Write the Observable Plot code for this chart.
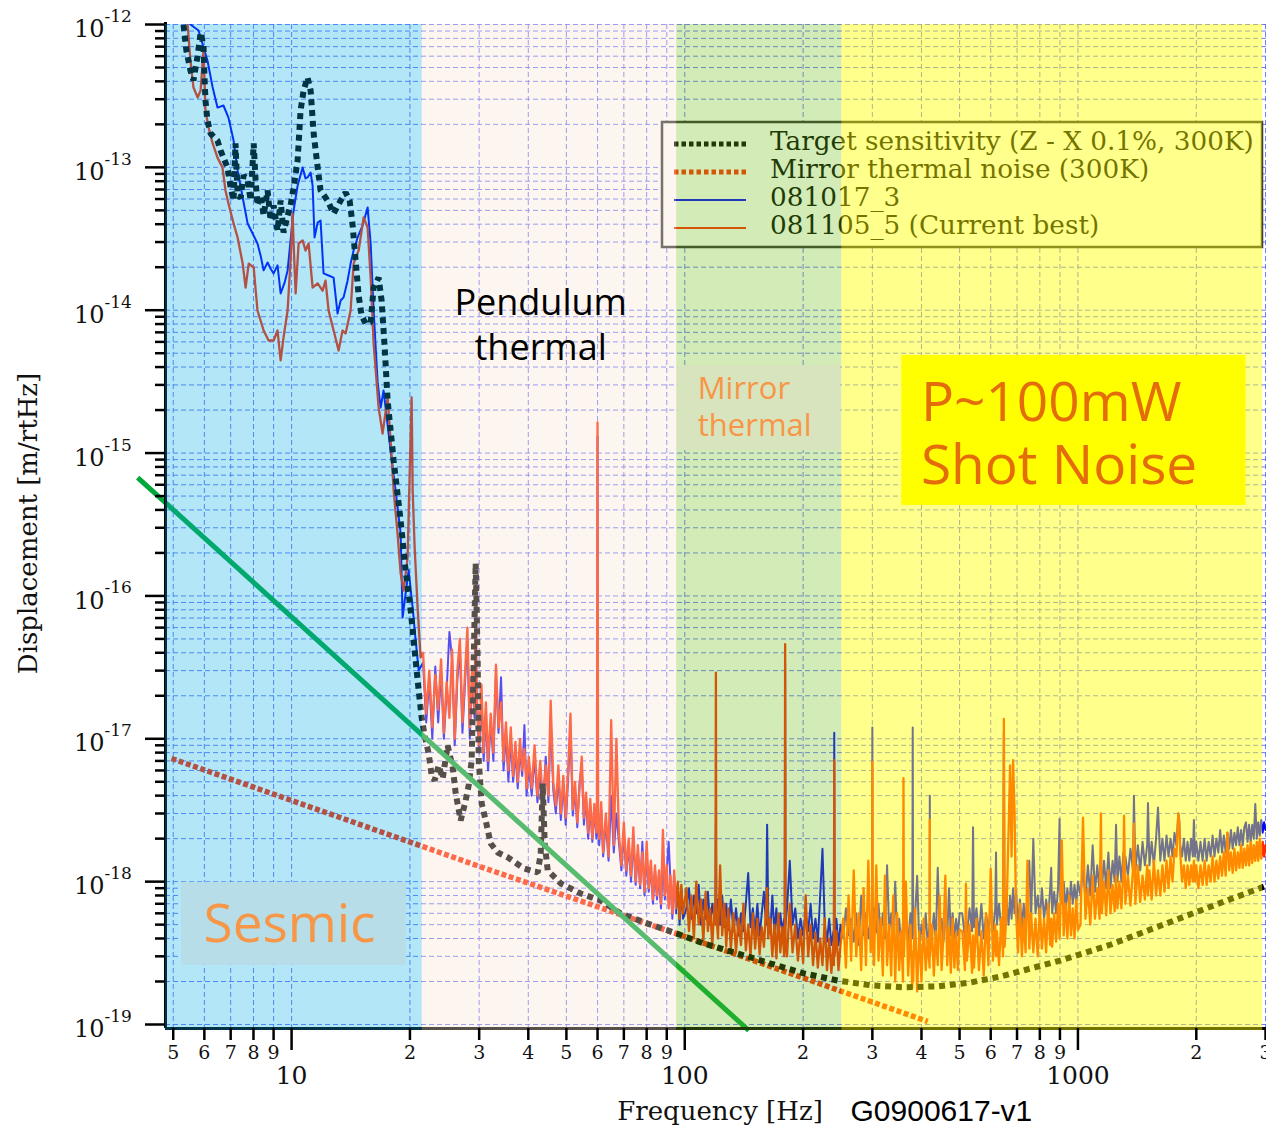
<!DOCTYPE html>
<html>
<head>
<meta charset="utf-8">
<script src="https://cdn.jsdelivr.net/npm/d3@7"></script>
<script src="https://cdn.jsdelivr.net/npm/@observablehq/plot@0.6"></script>
<style>
  html, body { margin: 0; padding: 0; background: #fff; }
  #chart { width: 1266px; height: 1128px; }
</style>
</head>
<body>
<div id="chart"></div>
<script>
// ---------------- DATA ----------------
// Target sensitivity (Z - X 0.1%, 300K)
const targetFreq = [5.2, 5.31, 5.40, 5.53, 5.63, 5.77, 5.87, 5.97, 6.01, 6.04,
  6.11, 6.22, 6.48, 6.60, 6.87, 7.00, 7.12, 7.20, 7.29, 7.42,
  7.55, 7.73, 7.87, 8.01, 8.10, 8.19, 8.34, 8.49, 8.69, 8.84,
  9.00, 9.21, 9.38, 9.54, 9.77, 9.94, 10.12, 10.36, 10.54, 10.73,
  10.98, 11.18, 11.38, 11.65, 11.85, 12.35, 12.79, 13.33, 13.72, 14.05,
  14.30, 14.55, 14.81, 15.07, 15.43, 15.89, 16.17, 16.65, 16.94, 17.24,
  17.55, 18.18, 18.94, 19.50, 20.09, 20.56, 21.05, 21.42, 21.80, 22.32,
  22.71, 23.11, 23.66, 24.23, 24.94, 25.69, 26.15, 26.92, 27.72, 28.21,
  28.71, 29.05, 29.39, 29.74, 29.92, 30.45, 31.17, 32.09, 33.44, 35.44,
  38.93, 42.27, 43.02, 43.52, 44.04, 44.81, 48.37, 54.37, 61.13, 68.72,
  80.52, 93.76, 111.8, 136.4, 165.5, 200.8, 245.1, 297.4, 360.8, 440.4,
  534.2, 637.1, 905.1, 1213, 1626, 2180, 3027];
const targetDisp = [1.4e-12, 1.0e-12, 6.58e-13, 4.77e-13, 4.06e-13, 6.07e-13, 8.79e-13, 7.13e-13, 4.06e-13, 2.94e-13,
  2.13e-13, 1.73e-13, 1.54e-13, 1.31e-13, 9.98e-14, 7.23e-14, 5.86e-14, 1.47e-13, 6.35e-14, 6.15e-14,
  8.77e-14, 8.09e-14, 5.86e-14, 1.47e-13, 8.09e-14, 5.41e-14, 6.35e-14, 4.60e-14, 6.89e-14, 4.25e-14,
  5.41e-14, 3.61e-14, 5.86e-14, 3.50e-14, 4.60e-14, 5.41e-14, 7.23e-14, 1.12e-13, 2.50e-13, 3.45e-13,
  4.26e-13, 3.45e-13, 1.73e-13, 1.0e-13, 6.89e-14, 5.86e-14, 4.75e-14, 5.86e-14, 6.67e-14, 5.86e-14,
  3.92e-14, 2.23e-14, 1.27e-14, 9.18e-15, 8.07e-15, 8.2e-15, 1.44e-14, 1.69e-14, 1.17e-14, 5.66e-15,
  2.33e-15, 8.87e-16, 3.37e-16, 1.51e-16, 7.91e-17, 4.15e-17, 2.18e-17, 1.41e-17, 1.05e-17, 7.89e-18,
  5.53e-18, 5.11e-18, 6.50e-18, 5.27e-18, 8.97e-18, 6.30e-18, 4.14e-18, 2.68e-18, 3.70e-18, 4.71e-18,
  7.05e-18, 3.53e-17, 1.69e-16, 3.53e-17, 7.05e-18, 3.52e-18, 2.68e-18, 1.85e-18, 1.60e-18, 1.48e-18,
  1.24e-18, 1.16e-18, 1.57e-18, 4.86e-18, 1.85e-18, 1.20e-18, 9.71e-19, 8.26e-19, 7.38e-19, 5.98e-19,
  5.09e-19, 4.41e-19, 3.69e-19, 3.14e-19, 2.67e-19, 2.28e-19, 2.03e-19, 1.88e-19, 1.82e-19, 1.85e-19,
  1.97e-19, 2.17e-19, 2.81e-19, 3.63e-19, 4.93e-19, 6.70e-19, 9.40e-19];

// Mirror thermal noise (300K)
const mirrorFreq = [4.95, 10, 30, 100, 415];
const mirrorDisp = [7.28e-18, 3.70e-18, 1.28e-18, 4.13e-19, 1.05e-19];

// Seismic noise guide line
const seismicFreq = [4.06, 145.5];
const seismicDisp = [6.74e-16, 9.08e-20];

// 081017_3 (blue), below ~21 Hz
const blueLowFreq = [5.45, 5.53, 5.80, 6.11, 6.30, 6.48, 6.71, 6.91, 7.12, 7.29,
  7.51, 7.73, 7.96, 8.19, 8.34, 8.49, 8.69, 8.84, 9.00, 9.21,
  9.38, 9.60, 9.77, 9.94, 10.12, 10.36, 10.67, 10.85, 10.98, 11.18,
  11.31, 11.44, 11.65, 11.85, 12.06, 12.42, 12.79, 13.09, 13.33, 13.56,
  13.88, 14.13, 14.38, 14.72, 15.16, 15.61, 15.89, 16.17, 16.56, 16.85,
  17.14, 17.86, 18.39, 18.94, 19.16, 19.50, 19.85, 20.32, 20.68, 21.05];
const blueLowDisp = [1.3e-12, 1.0e-12, 9.08e-13, 5.60e-13, 3.62e-13, 2.62e-13, 2.71e-13, 2.23e-13, 1.54e-13, 9.51e-14,
  6.15e-14, 4.05e-14, 3.44e-14, 2.93e-14, 2.42e-14, 1.90e-14, 2.16e-14, 1.96e-14, 1.81e-14, 2.06e-14,
  1.31e-14, 1.56e-14, 1.90e-14, 3.08e-14, 4.99e-14, 7.46e-14, 9.98e-14, 8.36e-14, 8.5e-14, 9.2e-14,
  7.46e-14, 3.23e-14, 4.11e-14, 4.25e-14, 1.81e-14, 1.75e-14, 1.69e-14, 9.48e-15, 1.17e-14, 1.23e-14,
  1.61e-14, 2.12e-14, 2.62e-14, 3.23e-14, 3.92e-14, 5.24e-14, 2.93e-14, 9.95e-15, 3.07e-15, 2.08e-15,
  2.74e-15, 1.04e-15, 5.47e-16, 2.74e-16, 7.06e-17, 1.04e-16, 1.51e-16, 8.30e-17, 4.88e-17, 3.01e-17];

// 081105_5 (current best, red), below ~21 Hz
const redLowFreq = [5.37, 5.44, 5.53, 5.63, 5.77, 5.87, 5.97, 6.04, 6.15, 6.30,
  6.48, 6.67, 6.79, 6.91, 7.12, 7.29, 7.51, 7.64, 7.78, 8.01,
  8.19, 8.49, 8.74, 9.00, 9.21, 9.38, 9.54, 9.77, 9.94, 10.06,
  10.12, 10.24, 10.42, 10.67, 10.85, 11.05, 11.31, 11.65, 11.99, 12.20,
  12.42, 12.79, 13.17, 13.48, 13.72, 14.13, 14.38, 14.81, 15.25, 15.61,
  15.89, 16.17, 16.65, 17.04, 17.55, 17.86, 18.18, 18.60, 18.94, 19.28,
  19.73, 19.97, 20.20, 20.32, 20.56, 20.92, 21.29];
const redLowDisp = [1.25e-12, 1.0e-12, 5.60e-13, 3.62e-13, 3.08e-13, 3.45e-13, 6.58e-13, 2.50e-13, 1.90e-13, 1.47e-13,
  1.17e-13, 1.0e-13, 6.89e-14, 5.58e-14, 4.05e-14, 3.23e-14, 2.12e-14, 1.44e-14, 2.12e-14, 1.99e-14,
  9.95e-15, 7.21e-15, 6.14e-15, 6.14e-15, 7.21e-15, 4.45e-15, 6.44e-15, 9.95e-15, 2.23e-14, 4.75e-14,
  2.93e-14, 1.31e-14, 2.93e-14, 3.08e-14, 2.62e-14, 2.93e-14, 1.44e-14, 1.54e-14, 1.37e-14, 1.61e-14,
  9.95e-15, 7.21e-15, 5.22e-15, 7.21e-15, 6.87e-15, 9.95e-15, 2.12e-14, 2.62e-14, 4.46e-14, 3.79e-14,
  1.69e-14, 5.85e-15, 2.08e-15, 1.37e-15, 2.45e-15, 1.22e-15, 5.47e-16, 2.74e-16, 1.44e-16, 1.09e-16,
  1.86e-16, 7.19e-16, 2.45e-15, 5.47e-16, 2.18e-16, 8.30e-17, 3.71e-17];

// Shared frequency bins above ~21 Hz for both measured spectra
const hiFreq = [
  21.6, 22.0, 22.4, 22.8, 23.2, 23.6, 24.0, 24.4, 24.8, 25.2, 25.6, 26.0, 26.4, 26.8, 27.2, 27.6, 28.0, 28.4, 28.8, 29.2, 29.4, 29.6, 30.0, 30.4, 30.8, 31.2,
  31.6, 32.1, 32.6, 33.1, 33.6, 34.1, 34.6, 35.1, 35.6, 36.1, 36.6, 37.1, 37.6, 38.1, 38.6, 39.1, 39.6, 40.1,
  40.8, 41.5, 42.2, 42.9, 43.6, 44.3, 45.0, 45.6, 46.3, 47.0, 47.7, 48.4, 49.1, 49.8, 50.5, 51.2, 51.9, 52.6, 53.3, 54.0, 54.7, 55.4, 56.1, 56.8, 57.5, 58.2, 58.9, 59.6, 59.8, 60.0, 60.2, 60.6, 61.3,
  62, 63, 64, 65, 66, 67, 68, 69, 70, 71, 72, 73, 74, 75, 76, 77, 78, 79, 80, 81, 82, 83, 84, 85, 86, 87, 88, 89, 90, 91, 92, 93, 94, 95, 96, 97, 98, 99,
  101, 102.5, 104, 105.5, 107, 108.5, 110, 111.5, 113, 114.5, 116, 117.5, 119, 119.7, 120, 120.3, 121.5, 123, 124.5, 126, 127.5, 129,
  131, 133, 135, 137, 139, 141, 143, 145, 147, 149, 151, 153, 155, 157, 159, 161, 162, 163, 165, 167, 169, 171, 173, 175, 177, 179, 179.6, 180, 180.4, 182,
  185, 188, 191, 194, 197, 200, 203, 206, 209, 212, 215, 218, 221, 224, 227, 230, 233, 236, 239, 239.5, 240, 240.5, 243, 246, 249,
  253, 257, 261, 265, 269, 273, 277, 281, 285, 289, 293, 297, 299.5, 300, 300.5, 303, 307, 311, 315, 319, 323, 327, 331, 335, 339, 343, 347, 351, 355, 359, 360, 361, 365, 370, 375, 379, 380, 381, 385, 390, 395, 400, 405, 410, 415, 419.5, 420, 420.5, 425, 430, 435, 440, 445, 450, 455, 460, 465, 470, 475, 480, 485, 490, 495, 500,
  508, 516, 519, 522, 530, 538, 541, 544, 552, 560, 568, 576, 584, 592, 600, 608, 616, 619, 622, 630, 638, 645, 648, 651, 658, 666, 672, 678, 684, 690, 696, 704, 712, 720, 728, 736, 744, 752, 760, 770, 780, 790, 800, 810, 820, 830, 840, 850, 855, 860, 870, 880, 890, 898, 902, 910, 920, 930, 940, 950, 960, 970, 980, 990, 1000,
  1015, 1030, 1045, 1060, 1075, 1090, 1105, 1120, 1135, 1144, 1150, 1165, 1180, 1195, 1210, 1225, 1240, 1250, 1260, 1275, 1290, 1305, 1310, 1320, 1340, 1360, 1380, 1388, 1400, 1420, 1440, 1460, 1480, 1500, 1507, 1520, 1540, 1560, 1580, 1598, 1620, 1640, 1660, 1680, 1700, 1720, 1740, 1760, 1780, 1800, 1810, 1820, 1840, 1860, 1880, 1900, 1920, 1940, 1960, 1972, 1985, 2000,
  2025, 2050, 2075, 2100, 2125, 2150, 2175, 2200, 2225, 2250, 2275, 2300, 2325, 2350, 2375, 2400, 2425, 2450, 2475, 2500, 2525, 2550, 2575, 2600, 2625, 2650, 2675, 2700, 2725, 2750, 2775, 2800, 2825, 2850, 2875, 2900, 2925, 2950, 2975, 3000];

const redHiDisp = [
  4.0e-17, 1.5e-17, 3.0e-17, 1.2e-17, 2.8e-17, 1.6e-17, 3.6e-17, 1.1e-17, 2.5e-17, 1.4e-17, 4.2e-17, 1.0e-17, 3.0e-17, 5.0e-17, 1.3e-17, 2.8e-17, 6.0e-17, 1.2e-17, 3.2e-17, 1.6e-17, 1.2e-16, 2.0e-17, 9.0e-18, 2.4e-17, 8.0e-18, 1.8e-17,
  7.0e-18, 1.5e-17, 8.0e-18, 3.3e-17, 1.2e-17, 1.8e-17, 7.0e-18, 1.3e-17, 6.0e-18, 1.2e-17, 5.5e-18, 9.5e-18, 5.0e-18, 1.0e-17, 6.0e-18, 8.5e-18, 4.5e-18, 7.5e-18,
  4.5e-18, 9.0e-18, 4.0e-18, 7.0e-18, 3.5e-18, 6.5e-18, 4.0e-18, 1.85e-17, 5.0e-18, 3.4e-18, 6.5e-18, 3.0e-18, 5.5e-18, 2.8e-18, 6.0e-18, 1.5e-17, 3.2e-18, 5.0e-18, 2.6e-18, 4.5e-18, 7.5e-18, 2.8e-18, 4.2e-18, 2.2e-18, 3.8e-18, 2.0e-18, 3.5e-18, 2.2e-18, 3.0e-18, 1.64e-15, 2.8e-18, 2.0e-18, 3.6e-18,
  1.6e-18, 3.0e-18, 1.5e-18, 1.35e-17, 1.8e-18, 1.0e-17, 2.2e-18, 1.3e-18, 2.6e-18, 1.2e-18, 2.0e-18, 1.1e-18, 2.4e-18, 1.0e-18, 1.8e-18, 9.5e-19, 1.6e-18, 8.5e-19, 1.9e-18, 9.0e-19, 1.4e-18, 7.5e-19, 1.3e-18, 8.0e-19, 1.2e-18, 7.0e-19, 2.3e-18, 8.0e-19, 1.3e-18, 6.5e-19, 1.1e-18, 6.0e-19, 1.2e-18, 6.5e-19, 1.0e-18, 5.5e-19, 9.5e-19, 6.0e-19,
  9.0e-19, 4.5e-19, 8.0e-19, 4.0e-19, 1.0e-18, 5.0e-19, 7.5e-19, 3.8e-19, 8.5e-19, 4.5e-19, 6.5e-19, 3.6e-19, 7.0e-19, 5.0e-19, 2.9e-17, 6.0e-19, 4.0e-19, 1.3e-18, 4.2e-19, 7.0e-19, 3.5e-19, 6.5e-19,
  3.4e-19, 6.0e-19, 3.2e-19, 5.5e-19, 3.6e-19, 7.0e-19, 3.3e-19, 5.0e-19, 3.0e-19, 6.0e-19, 3.4e-19, 5.5e-19, 3.1e-19, 4.8e-19, 3.5e-19, 6.5e-19, 9.0e-19, 4.0e-19, 5.5e-19, 3.0e-19, 5.0e-19, 2.9e-19, 6.0e-19, 3.2e-19, 4.8e-19, 3.0e-19, 4.2e-19, 4.6e-17, 4.0e-19, 3.0e-19,
  7.0e-19, 3.2e-19, 5.0e-19, 2.8e-19, 4.6e-19, 2.7e-19, 8.0e-19, 3.0e-19, 5.0e-19, 2.6e-19, 4.4e-19, 2.5e-19, 4.0e-19, 2.6e-19, 5.5e-19, 2.4e-19, 4.0e-19, 2.3e-19, 3.8e-19, 2.6e-19, 7.1e-18, 3.0e-19, 4.5e-19, 2.4e-19, 3.6e-19,
  5.5e-19, 2.5e-19, 8.0e-19, 2.8e-19, 1.2e-18, 3.0e-19, 6.0e-19, 2.4e-19, 9.0e-19, 2.6e-19, 1.4e-18, 3.2e-19, 4.5e-19, 6.9e-18, 4.0e-19, 2.6e-19, 1.3e-18, 2.8e-19, 5.5e-19, 2.2e-19, 1.1e-18, 2.6e-19, 5.0e-19, 2.2e-19, 8.0e-19, 2.0e-19, 6.0e-19, 2.4e-19, 4.5e-19, 2.0e-19, 5.3e-18, 3.0e-19, 1.0e-18, 2.2e-19, 5.0e-19, 1.8e-19, 3.2e-19, 2.0e-19, 6.5e-19, 1.7e-19, 4.5e-19, 2.0e-19, 5.5e-19, 2.4e-19, 4.0e-19, 2.5e-19, 2.7e-18, 3.0e-19, 5.0e-19, 2.2e-19, 4.5e-19, 2.6e-19, 8.0e-19, 2.4e-19, 4.2e-19, 1.1e-18, 2.6e-19, 4.8e-19, 2.3e-19, 5.5e-19, 2.5e-19, 4.4e-19, 2.4e-19, 4.6e-19,
  4.5e-19, 2.4e-19, 9.7e-19, 2.8e-19, 5.0e-19, 2.3e-19, 4.2e-19, 2.5e-19, 5.5e-19, 2.4e-19, 4.5e-19, 2.2e-19, 6.0e-19, 2.6e-19, 1.23e-18, 2.8e-19, 5.0e-19, 3.0e-19, 4.5e-19, 2.6e-19, 5.5e-19, 3.0e-19, 1.38e-17, 3.5e-19, 6.0e-19, 2.2e-18, 6.5e-18, 1.5e-18, 7.1e-18, 3.0e-18, 6.0e-19, 3.2e-19, 7.0e-19, 3.0e-19, 5.5e-19, 3.2e-19, 1.4e-18, 3.4e-19, 6.0e-19, 3.2e-19, 5.5e-19, 3.0e-19, 6.5e-19, 3.4e-19, 5.5e-19, 3.2e-19, 7.0e-19, 3.6e-19, 5.5e-19, 3.5e-19, 6.0e-19, 3.8e-19, 7.0e-19, 4.0e-19, 6.0e-19, 1.94e-18, 4.2e-19, 7.0e-19, 4.0e-19, 8.0e-19, 4.2e-19, 6.5e-19, 4.0e-19, 7.5e-19, 4.6e-19,
  5.0e-19, 2.8e-18, 5.5e-19, 9.0e-19, 5.0e-19, 1.1e-18, 5.5e-19, 9.0e-19, 5.5e-19, 3.0e-18, 6.0e-19, 1.0e-18, 5.8e-19, 1.2e-18, 6.0e-19, 9.5e-19, 6.2e-19, 1.1e-18, 6.5e-19, 1.0e-18, 6.5e-19, 1.2e-18, 2.9e-18, 7.0e-19, 1.1e-18, 6.8e-19, 1.2e-18, 2.55e-18, 7.0e-19, 1.3e-18, 7.2e-19, 1.1e-18, 7.5e-19, 1.3e-18, 8.0e-19, 1.2e-18, 7.5e-19, 1.4e-18, 8.0e-19, 1.2e-18, 8.0e-19, 1.3e-18, 8.5e-19, 1.4e-18, 9.0e-19, 1.5e-18, 1.0e-18, 1.7e-18, 1.5e-18, 3.0e-18, 2.6e-18, 1.6e-18, 1.0e-18, 1.3e-18, 9.0e-19, 1.3e-18, 9.5e-19, 1.3e-18, 1.0e-18, 1.4e-18, 1.0e-18, 1.3e-18,
  9.0e-19, 1.3e-18, 9.5e-19, 1.4e-18, 9.5e-19, 1.3e-18, 1.0e-18, 1.5e-18, 1.0e-18, 1.4e-18, 1.05e-18, 1.5e-18, 1.1e-18, 1.6e-18, 1.1e-18, 2.2e-18, 1.2e-18, 1.6e-18, 1.15e-18, 1.7e-18, 1.2e-18, 1.6e-18, 1.25e-18, 1.8e-18, 1.25e-18, 1.7e-18, 1.3e-18, 1.8e-18, 1.3e-18, 1.9e-18, 1.35e-18, 1.8e-18, 1.4e-18, 1.9e-18, 1.4e-18, 2.0e-18, 1.45e-18, 1.9e-18, 1.5e-18, 1.8e-18];

const blueHiDisp = [
  3.4e-17, 1.3e-17, 2.6e-17, 1.0e-17, 3.2e-17, 1.3e-17, 3.0e-17, 1.0e-17, 2.2e-17, 5.6e-17, 3.6e-17, 9.0e-18, 2.6e-17, 4.2e-17, 1.1e-17, 2.4e-17, 5.0e-17, 1.0e-17, 2.8e-17, 1.4e-17, 2.6e-17, 1.7e-17, 8.0e-18, 2.0e-17, 7.0e-18, 1.5e-17,
  6.0e-18, 1.3e-17, 7.0e-18, 2.8e-17, 1.1e-17, 2.7e-17, 6.0e-18, 1.1e-17, 5.0e-18, 1.0e-17, 5.0e-18, 8.0e-18, 4.5e-18, 8.5e-18, 5.5e-18, 1.25e-17, 4.0e-18, 6.5e-18,
  4.0e-18, 7.5e-18, 3.6e-18, 6.0e-18, 3.2e-18, 7.5e-18, 3.6e-18, 1.4e-17, 4.4e-18, 3.0e-18, 5.5e-18, 2.7e-18, 4.8e-18, 2.5e-18, 5.2e-18, 1.2e-17, 2.9e-18, 4.4e-18, 2.4e-18, 5.0e-18, 6.5e-18, 2.5e-18, 3.8e-18, 2.0e-18, 3.4e-18, 1.9e-18, 3.2e-18, 2.0e-18, 2.6e-18, 1.3e-15, 2.5e-18, 1.8e-18, 3.2e-18,
  1.5e-18, 2.6e-18, 1.4e-18, 4.0e-18, 1.6e-18, 3.0e-18, 1.9e-18, 1.2e-18, 2.2e-18, 1.1e-18, 1.8e-18, 1.0e-18, 2.0e-18, 9.5e-19, 1.6e-18, 9.0e-19, 1.9e-18, 8.0e-19, 1.6e-18, 8.5e-19, 1.3e-18, 7.0e-19, 1.2e-18, 7.5e-19, 1.1e-18, 6.5e-19, 1.4e-18, 7.5e-19, 1.2e-18, 1.9e-18, 1.0e-18, 5.5e-19, 1.1e-18, 6.0e-19, 9.5e-19, 5.0e-19, 9.0e-19, 5.5e-19,
  6.5e-19, 9.0e-19, 5.5e-19, 8.0e-19, 6.0e-19, 9.5e-19, 5.0e-19, 7.5e-19, 5.5e-19, 8.5e-19, 5.0e-19, 7.0e-19, 5.5e-19, 6.5e-19, 2.6e-18, 6.0e-19, 7.5e-19, 5.0e-19, 8.0e-19, 4.8e-19, 7.0e-19, 4.6e-19,
  7.5e-19, 4.5e-19, 6.5e-19, 4.2e-19, 6.0e-19, 4.5e-19, 7.0e-19, 1.15e-18, 4.8e-19, 6.5e-19, 4.4e-19, 7.0e-19, 4.2e-19, 6.0e-19, 8.5e-19, 5.0e-19, 2.5e-18, 6.0e-19, 4.5e-19, 8.0e-19, 4.4e-19, 6.5e-19, 4.0e-19, 6.0e-19, 4.5e-19, 5.5e-19, 4.5e-19, 3.4e-17, 5.0e-19, 6.5e-19,
  1.4e-18, 5.0e-19, 6.5e-19, 4.0e-19, 5.5e-19, 4.2e-19, 6.0e-19, 4.5e-19, 7.0e-19, 4.0e-19, 5.5e-19, 3.8e-19, 8.0e-19, 1.7e-18, 5.0e-19, 3.8e-19, 5.5e-19, 3.6e-19, 4.5e-19, 4.0e-19, 1.1e-17, 4.2e-19, 5.5e-19, 3.6e-19, 5.0e-19,
  4.0e-19, 6.5e-19, 4.2e-19, 5.5e-19, 3.8e-19, 6.0e-19, 3.6e-19, 8.0e-19, 4.2e-19, 6.0e-19, 4.0e-19, 5.5e-19, 4.5e-19, 1.2e-17, 4.6e-19, 6.5e-19, 4.4e-19, 7.0e-19, 4.2e-19, 6.0e-19, 4.0e-19, 1.3e-18, 4.5e-19, 6.0e-19, 4.0e-19, 1.0e-18, 3.8e-19, 5.5e-19, 3.6e-19, 5.0e-19, 6.0e-19, 4.0e-19, 5.5e-19, 3.8e-19, 6.0e-19, 4.0e-19, 1.2e-17, 4.2e-19, 5.5e-19, 1.1e-18, 3.6e-19, 5.0e-19, 3.8e-19, 6.0e-19, 3.6e-19, 5.0e-19, 4.0e-18, 5.0e-19, 4.0e-19, 6.0e-19, 3.8e-19, 1.25e-18, 4.2e-19, 5.5e-19, 3.8e-19, 6.5e-19, 4.0e-19, 9.0e-19, 4.2e-19, 6.0e-19, 4.0e-19, 5.5e-19, 4.2e-19, 6.0e-19,
  6.0e-19, 4.0e-19, 5.5e-19, 4.2e-19, 6.5e-19, 4.5e-19, 2.4e-18, 4.8e-19, 6.5e-19, 4.2e-19, 7.0e-19, 4.0e-19, 6.0e-19, 4.4e-19, 7.0e-19, 4.5e-19, 6.5e-19, 1.6e-18, 5.0e-19, 7.0e-19, 4.6e-19, 6.0e-19, 1.1e-17, 5.0e-19, 7.5e-19, 5.0e-19, 8.0e-19, 5.5e-19, 9.0e-19, 6.0e-19, 8.5e-19, 5.0e-19, 7.5e-19, 4.8e-19, 7.0e-19, 5.0e-19, 8.0e-19, 1.4e-18, 5.5e-19, 2.0e-18, 6.0e-19, 8.0e-19, 5.5e-19, 9.0e-19, 5.5e-19, 7.5e-19, 5.5e-19, 9.0e-19, 1.25e-18, 6.0e-19, 8.5e-19, 6.0e-19, 9.0e-19, 2.75e-18, 8.0e-19, 7.0e-19, 1.0e-18, 6.5e-19, 9.0e-19, 6.5e-19, 1.0e-18, 7.0e-19, 9.5e-19, 7.0e-19, 1.0e-18,
  8.0e-19, 1.2e-18, 7.5e-19, 1.3e-18, 8.0e-19, 1.8e-18, 8.5e-19, 1.3e-18, 8.5e-19, 1.5e-18, 9.0e-19, 1.4e-18, 9.0e-19, 1.6e-18, 9.0e-19, 1.4e-18, 1.0e-18, 2.5e-18, 1.0e-18, 1.5e-18, 1.0e-18, 1.6e-18, 1.1e-18, 1.5e-18, 1.1e-18, 1.7e-18, 1.2e-18, 4.0e-18, 1.2e-18, 1.8e-18, 1.2e-18, 1.9e-18, 1.3e-18, 1.8e-18, 3.55e-18, 1.3e-18, 1.9e-18, 1.3e-18, 2.0e-18, 3.3e-18, 1.4e-18, 2.0e-18, 1.4e-18, 2.1e-18, 1.5e-18, 2.0e-18, 1.5e-18, 2.2e-18, 1.8e-18, 3.0e-18, 2.7e-18, 1.8e-18, 1.5e-18, 2.0e-18, 1.4e-18, 1.9e-18, 1.4e-18, 2.0e-18, 1.5e-18, 2.7e-18, 1.5e-18, 1.9e-18,
  1.4e-18, 1.9e-18, 1.4e-18, 2.0e-18, 1.4e-18, 1.9e-18, 1.5e-18, 2.1e-18, 1.5e-18, 2.0e-18, 1.6e-18, 2.3e-18, 1.6e-18, 2.1e-18, 1.6e-18, 2.2e-18, 1.7e-18, 2.3e-18, 1.7e-18, 2.2e-18, 1.8e-18, 2.4e-18, 1.8e-18, 2.3e-18, 1.8e-18, 2.4e-18, 2.6e-18, 1.9e-18, 2.5e-18, 1.9e-18, 2.5e-18, 2.0e-18, 3.5e-18, 2.0e-18, 2.6e-18, 2.1e-18, 2.7e-18, 2.2e-18, 2.6e-18, 2.3e-18];

// Noise-region bands
const bandNames = ["Seismic", "Pendulum thermal", "Mirror thermal", "Shot noise"];
const bandStart = [4.779, 21.5, 95.4, 250.9];
const bandEnd = [21.5, 95.4, 250.9, 2950];
const bandColor = ["rgb(2,172,228)", "rgb(250,225,210)", "rgb(105,188,18)", "rgb(255,255,0)"];
const bandOpacity = [0.3, 0.35, 0.3, 0.45];

// Annotation boxes
const boxX1 = [5.25, 96, 356.6];
const boxX2 = [19.6, 249.5, 2676];
const boxY1 = [2.6e-19, 1.04e-15, 4.30e-16];
const boxY2 = [9.9e-19, 4.1e-15, 4.82e-15];
const boxFill = ["#b7dde8", "#d7e4bd", "#ffff00"];

// Axis ticks and labels
const xMajorTicks = [10, 100, 1000];
const xMajorLabels = ["10", "100", "1000"];
const xMinorTicks = [5, 6, 7, 8, 9, 20, 30, 40, 50, 60, 70, 80, 90, 200, 300, 400, 500, 600, 700, 800, 900, 2000, 3000];
const xMinorLabels = ["5", "6", "7", "8", "9", "2", "3", "4", "5", "6", "7", "8", "9", "2", "3", "4", "5", "6", "7", "8", "9", "2", "3"];
const yMajorTicks = [1e-19, 1e-18, 1e-17, 1e-16, 1e-15, 1e-14, 1e-13, 1e-12];
const yExpLabels = ["-19", "-18", "-17", "-16", "-15", "-14", "-13", "-12"];

const legendLabels = ["Target sensitivity (Z - X 0.1%, 300K)", "Mirror thermal noise (300K)", "081017_3", "081105_5 (Current best)"];
const legendColors = ["#000000", "#ff2a00", "#0000ff", "#ff2a00"];

// ---------------- BUILD ----------------
function check(a, b, n) { if (a.length !== b.length) throw new Error(n + " length mismatch " + a.length + " vs " + b.length); }
check(targetFreq, targetDisp, "target");
check(blueLowFreq, blueLowDisp, "blueLow");
check(redLowFreq, redLowDisp, "redLow");
check(hiFreq, redHiDisp, "redHi");
check(hiFreq, blueHiDisp, "blueHi");

const zip = (fs, vs) => fs.map((f, i) => ({f, v: vs[i]}));
const target = zip(targetFreq, targetDisp);
const mirror = zip(mirrorFreq, mirrorDisp);
const seismic = zip(seismicFreq, seismicDisp);
const blue = zip(blueLowFreq, blueLowDisp).concat(zip(hiFreq, blueHiDisp));
const red = zip(redLowFreq, redLowDisp).concat(zip(hiFreq, redHiDisp));
const bands = bandNames.map((name, i) => ({name, x1: bandStart[i], x2: bandEnd[i], color: bandColor[i], op: bandOpacity[i]}));
const boxes = boxFill.map((fill, i) => ({x1: boxX1[i], x2: boxX2[i], y1: boxY1[i], y2: boxY2[i], fill}));

const yMinorTicks = [];
for (const d of yMajorTicks.slice(0, -1)) for (let k = 2; k <= 9; k++) yMinorTicks.push(k * d);
const yGrid = yMajorTicks.concat(yMinorTicks);
const xGrid = xMajorTicks.concat(xMinorTicks);

const xDomain = [4.779, 3017];
const yDomain = [9.375e-20, 1e-12];
const serif = "DejaVu Serif";
const sans = "Open Sans";

function legendMark() {
  const g = d3.create("svg:g");
  g.append("rect").attr("x", 662).attr("y", 122).attr("width", 600).attr("height", 125)
    .attr("fill", "#fff").attr("stroke", "#333").attr("stroke-width", 2.5);
  legendLabels.forEach((label, i) => {
    const y = 144 + i * 28;
    g.append("line").attr("x1", 674).attr("x2", 746).attr("y1", y).attr("y2", y)
      .attr("stroke", legendColors[i]).attr("stroke-width", i < 2 ? 5 : 2)
      .attr("stroke-linecap", "butt")
      .attr("stroke-dasharray", i < 2 ? "4.5,3" : null);
    g.append("text").attr("x", 770).attr("y", y - 3).attr("dy", "0.35em")
      .attr("text-anchor", "start")
      .attr("font-family", serif).attr("font-size", 26.3).attr("fill", "#000").text(label);
  });
  return g.node();
}

const dotted = {strokeLinecap: "butt", strokeLinejoin: "miter"};

const chart = Plot.plot({
  width: 1266,
  height: 1128,
  marginLeft: 165,
  marginRight: 0,
  marginTop: 24,
  marginBottom: 100,
  x: {type: "log", domain: xDomain, axis: null},
  y: {type: "log", domain: yDomain, axis: null},
  style: {background: "transparent", fontFamily: serif},
  marks: [
    Plot.gridX(xGrid, {stroke: "#5c6cff", strokeOpacity: 0.9, strokeWidth: 1, strokeDasharray: "5,3"}),
    Plot.gridY(yGrid, {stroke: "#5c6cff", strokeOpacity: 0.9, strokeWidth: 1, strokeDasharray: "5,3"}),
    Plot.line(blue, {x: "f", y: "v", stroke: "#0000ff", strokeWidth: 2, clip: true}),
    Plot.line(red, {x: "f", y: "v", stroke: "#ff2a00", strokeWidth: 2.3, clip: true}),
    Plot.line(mirror, {x: "f", y: "v", stroke: "#ff2a00", strokeWidth: 5.5, strokeDasharray: "5,2.6", clip: true, ...dotted}),
    Plot.line(target, {x: "f", y: "v", stroke: "#000", strokeWidth: 6, strokeDasharray: "6,4.8", clip: true, ...dotted}),
    Plot.line(seismic, {x: "f", y: "v", stroke: "#00a83c", strokeWidth: 5, strokeLinecap: "butt"}),
    Plot.ruleX([xDomain[0]], {stroke: "#000", strokeWidth: 3, insetTop: -2}),
    Plot.ruleY([yDomain[0]], {stroke: "#000", strokeWidth: 3}),
    legendMark,
    ...bands.map(b => Plot.rect([b], {x1: "x1", x2: "x2", fill: b.color, fillOpacity: b.op, insetBottom: -2, insetTop: 0})),
    Plot.rect(boxes, {x1: "x1", x2: "x2", y1: "y1", y2: "y2", fill: "fill"}),
    Plot.text(["Pendulum\nthermal"], {x: 43.0, y: 8.14e-15, text: d => d, fontFamily: sans, fontSize: 36, fill: "#000", lineHeight: 1.25, lineAnchor: "middle"}),
    Plot.text(["Mirror\nthermal"], {x: 107.9, y: 2.136e-15, text: d => d, fontFamily: sans, fontSize: 31, fill: "#f79646", textAnchor: "start", lineHeight: 1.2, lineAnchor: "middle"}),
    Plot.text(["P~100mW\nShot Noise"], {x: 398.6, y: 1.404e-15, text: d => d, fontFamily: sans, fontSize: 55, fill: "#e46c0a", textAnchor: "start", lineHeight: 1.15, lineAnchor: "middle"}),
    Plot.text(["Sesmic"], {x: 9.88, y: 4.93e-19, text: d => d, fontFamily: sans, fontSize: 53, fill: "#f79646", lineAnchor: "middle"}),
    // axis ticks
    Plot.axisY(yMajorTicks, {tickSize: 20, tickFormat: () => "", stroke: "#000", strokeWidth: 2.5, label: null}),
    Plot.axisY(yMinorTicks, {tickSize: 10, tickFormat: () => "", stroke: "#000", strokeWidth: 2.5, label: null}),
    Plot.axisX(xMajorTicks, {tickSize: 22, tickFormat: () => "", stroke: "#000", strokeWidth: 2.5, label: null}),
    Plot.axisX(xMinorTicks, {tickSize: 12, tickFormat: () => "", stroke: "#000", strokeWidth: 2.5, label: null}),
    // tick labels
    Plot.text(yMajorTicks, {y: d => d, text: () => "10", frameAnchor: "left", dx: -61, dy: 5, textAnchor: "end", lineAnchor: "middle", fontFamily: serif, fontSize: 24, fill: "#111"}),
    Plot.text(yMajorTicks, {y: d => d, text: (d, i) => yExpLabels[i], frameAnchor: "left", dx: -61, dy: -8, textAnchor: "start", lineAnchor: "middle", fontFamily: serif, fontSize: 17, fill: "#111"}),
    Plot.text(xMinorTicks, {x: d => d, text: (d, i) => xMinorLabels[i], frameAnchor: "bottom", dy: 24, lineAnchor: "middle", fontFamily: serif, fontSize: 19, fill: "#111"}),
    Plot.text(xMajorTicks, {x: d => d, text: (d, i) => xMajorLabels[i], frameAnchor: "bottom", dy: 47, lineAnchor: "middle", fontFamily: serif, fontSize: 25, fill: "#111"}),
    // titles
    Plot.text(["Displacement [m/rtHz]"], {text: d => d, frameAnchor: "left", dx: -137, dy: -3, rotate: -90, textAnchor: "middle", lineAnchor: "middle", fontFamily: serif, fontSize: 26, fill: "#111"}),
    Plot.text(["Frequency [Hz]"], {text: d => d, frameAnchor: "bottom", dx: 4, dy: 83, textAnchor: "middle", lineAnchor: "middle", fontFamily: serif, fontSize: 26, fill: "#111"}),
    Plot.text(["G0900617-v1"], {text: d => d, frameAnchor: "bottom-right", dx: -416, dy: 83, textAnchor: "start", lineAnchor: "middle", fontFamily: "Liberation Sans", fontSize: 30, fill: "#000"})
  ]
});
document.getElementById("chart").appendChild(chart);
</script>
</body>
</html>
